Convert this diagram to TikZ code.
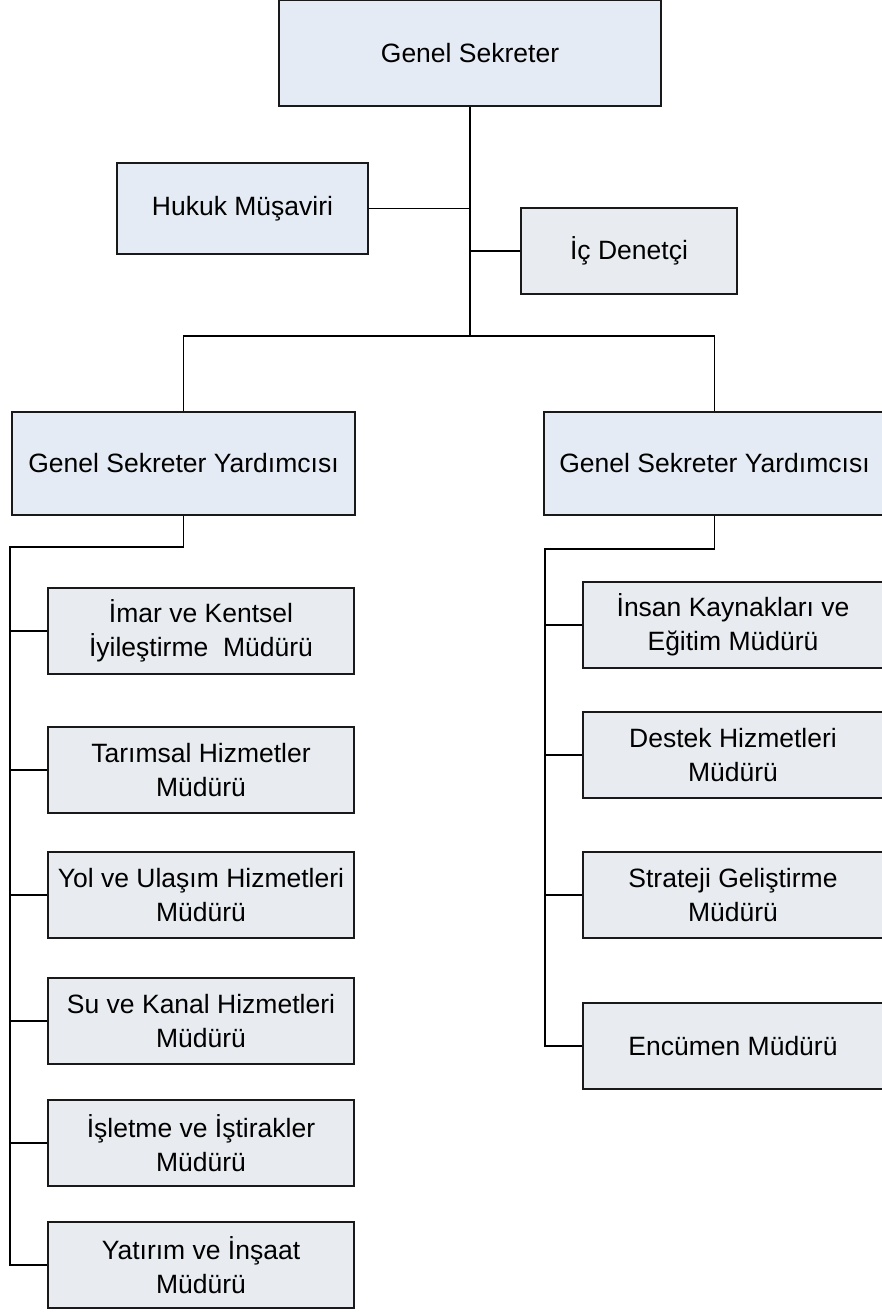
\documentclass[tikz,border=0pt]{standalone}
\usepackage{fontspec}
\setmainfont{Liberation Sans}
\usetikzlibrary{positioning}
\definecolor{boxblue}{HTML}{E5EBF5}
\definecolor{boxgray}{HTML}{E8ECF0}

\begin{document}
\begin{tikzpicture}[x=1pt,y=-1pt,line width=1.4pt,
	box/.style={draw=black!90,rectangle,align=center,inner sep=0pt,font=\fontsize{26.5}{34}\selectfont},
	upper/.style={box,fill=boxblue},
	unit/.style={box,fill=boxgray,minimum width=306pt,minimum height=86pt}]
	\useasboundingbox (0,0) rectangle (881,1314);
	% top level
	\node[upper,minimum width=382pt,minimum height=106pt] (gs) at (470,53) {Genel Sekreter};
	\node[upper,minimum width=251pt,minimum height=91pt] (hukuk) at (242.5,208.5) {Hukuk Müşaviri};
	\node[box,fill=boxgray,minimum width=216pt,minimum height=86pt] (icd) at (629,251) {İç Denetçi};
	\node[upper,minimum width=343pt,minimum height=103pt] (gsy1) at (183.5,463.5) {Genel Sekreter Yardımcısı};
	\node[upper,minimum width=341pt,minimum height=103pt] (gsy2) at (714.5,463.5) {Genel Sekreter Yardımcısı};
	% left units
	\node[unit] (imar) at (201,631) {İmar ve Kentsel\\İyileştirme~ Müdürü};
	\node[unit] (tarim) at (201,770) {Tarımsal Hizmetler\\Müdürü};
	\node[unit] (yol) at (201,895) {Yol ve Ulaşım Hizmetleri\\Müdürü};
	\node[unit] (su) at (201,1021) {Su ve Kanal Hizmetleri\\Müdürü};
	\node[unit] (isletme) at (201,1143) {İşletme ve İştirakler\\Müdürü};
	\node[unit] (yatirim) at (201,1265) {Yatırım ve İnşaat\\Müdürü};
	% right units
	\node[unit,minimum width=300pt] (insan) at (733,625) {İnsan Kaynakları ve\\Eğitim Müdürü};
	\node[unit,minimum width=300pt] (destek) at (733,755) {Destek Hizmetleri\\Müdürü};
	\node[unit,minimum width=300pt] (strateji) at (733,895) {Strateji Geliştirme\\Müdürü};
	\node[unit,minimum width=300pt] (encumen) at (733,1046) {Encümen Müdürü};

	\coordinate (j1) at (470,336);
	\coordinate (l1) at (10,547);
	\coordinate (r1) at (545,549);

	\draw (gs.south) -- (j1);
	\draw (hukuk.east) -- (hukuk.east -| j1);
	\draw (icd.west) -- (icd.west -| j1);
	\draw (gsy1.north) |- (j1) -| (gsy2.north);
	\draw (gsy1.south) |- (l1) |- (yatirim.west);
	\draw (imar.west) -- (imar.west -| l1);
	\draw (tarim.west) -- (tarim.west -| l1);
	\draw (yol.west) -- (yol.west -| l1);
	\draw (su.west) -- (su.west -| l1);
	\draw (isletme.west) -- (isletme.west -| l1);
	\draw (gsy2.south) |- (r1) |- (encumen.west);
	\draw (insan.west) -- (insan.west -| r1);
	\draw (destek.west) -- (destek.west -| r1);
	\draw (strateji.west) -- (strateji.west -| r1);
\end{tikzpicture}
\end{document}
